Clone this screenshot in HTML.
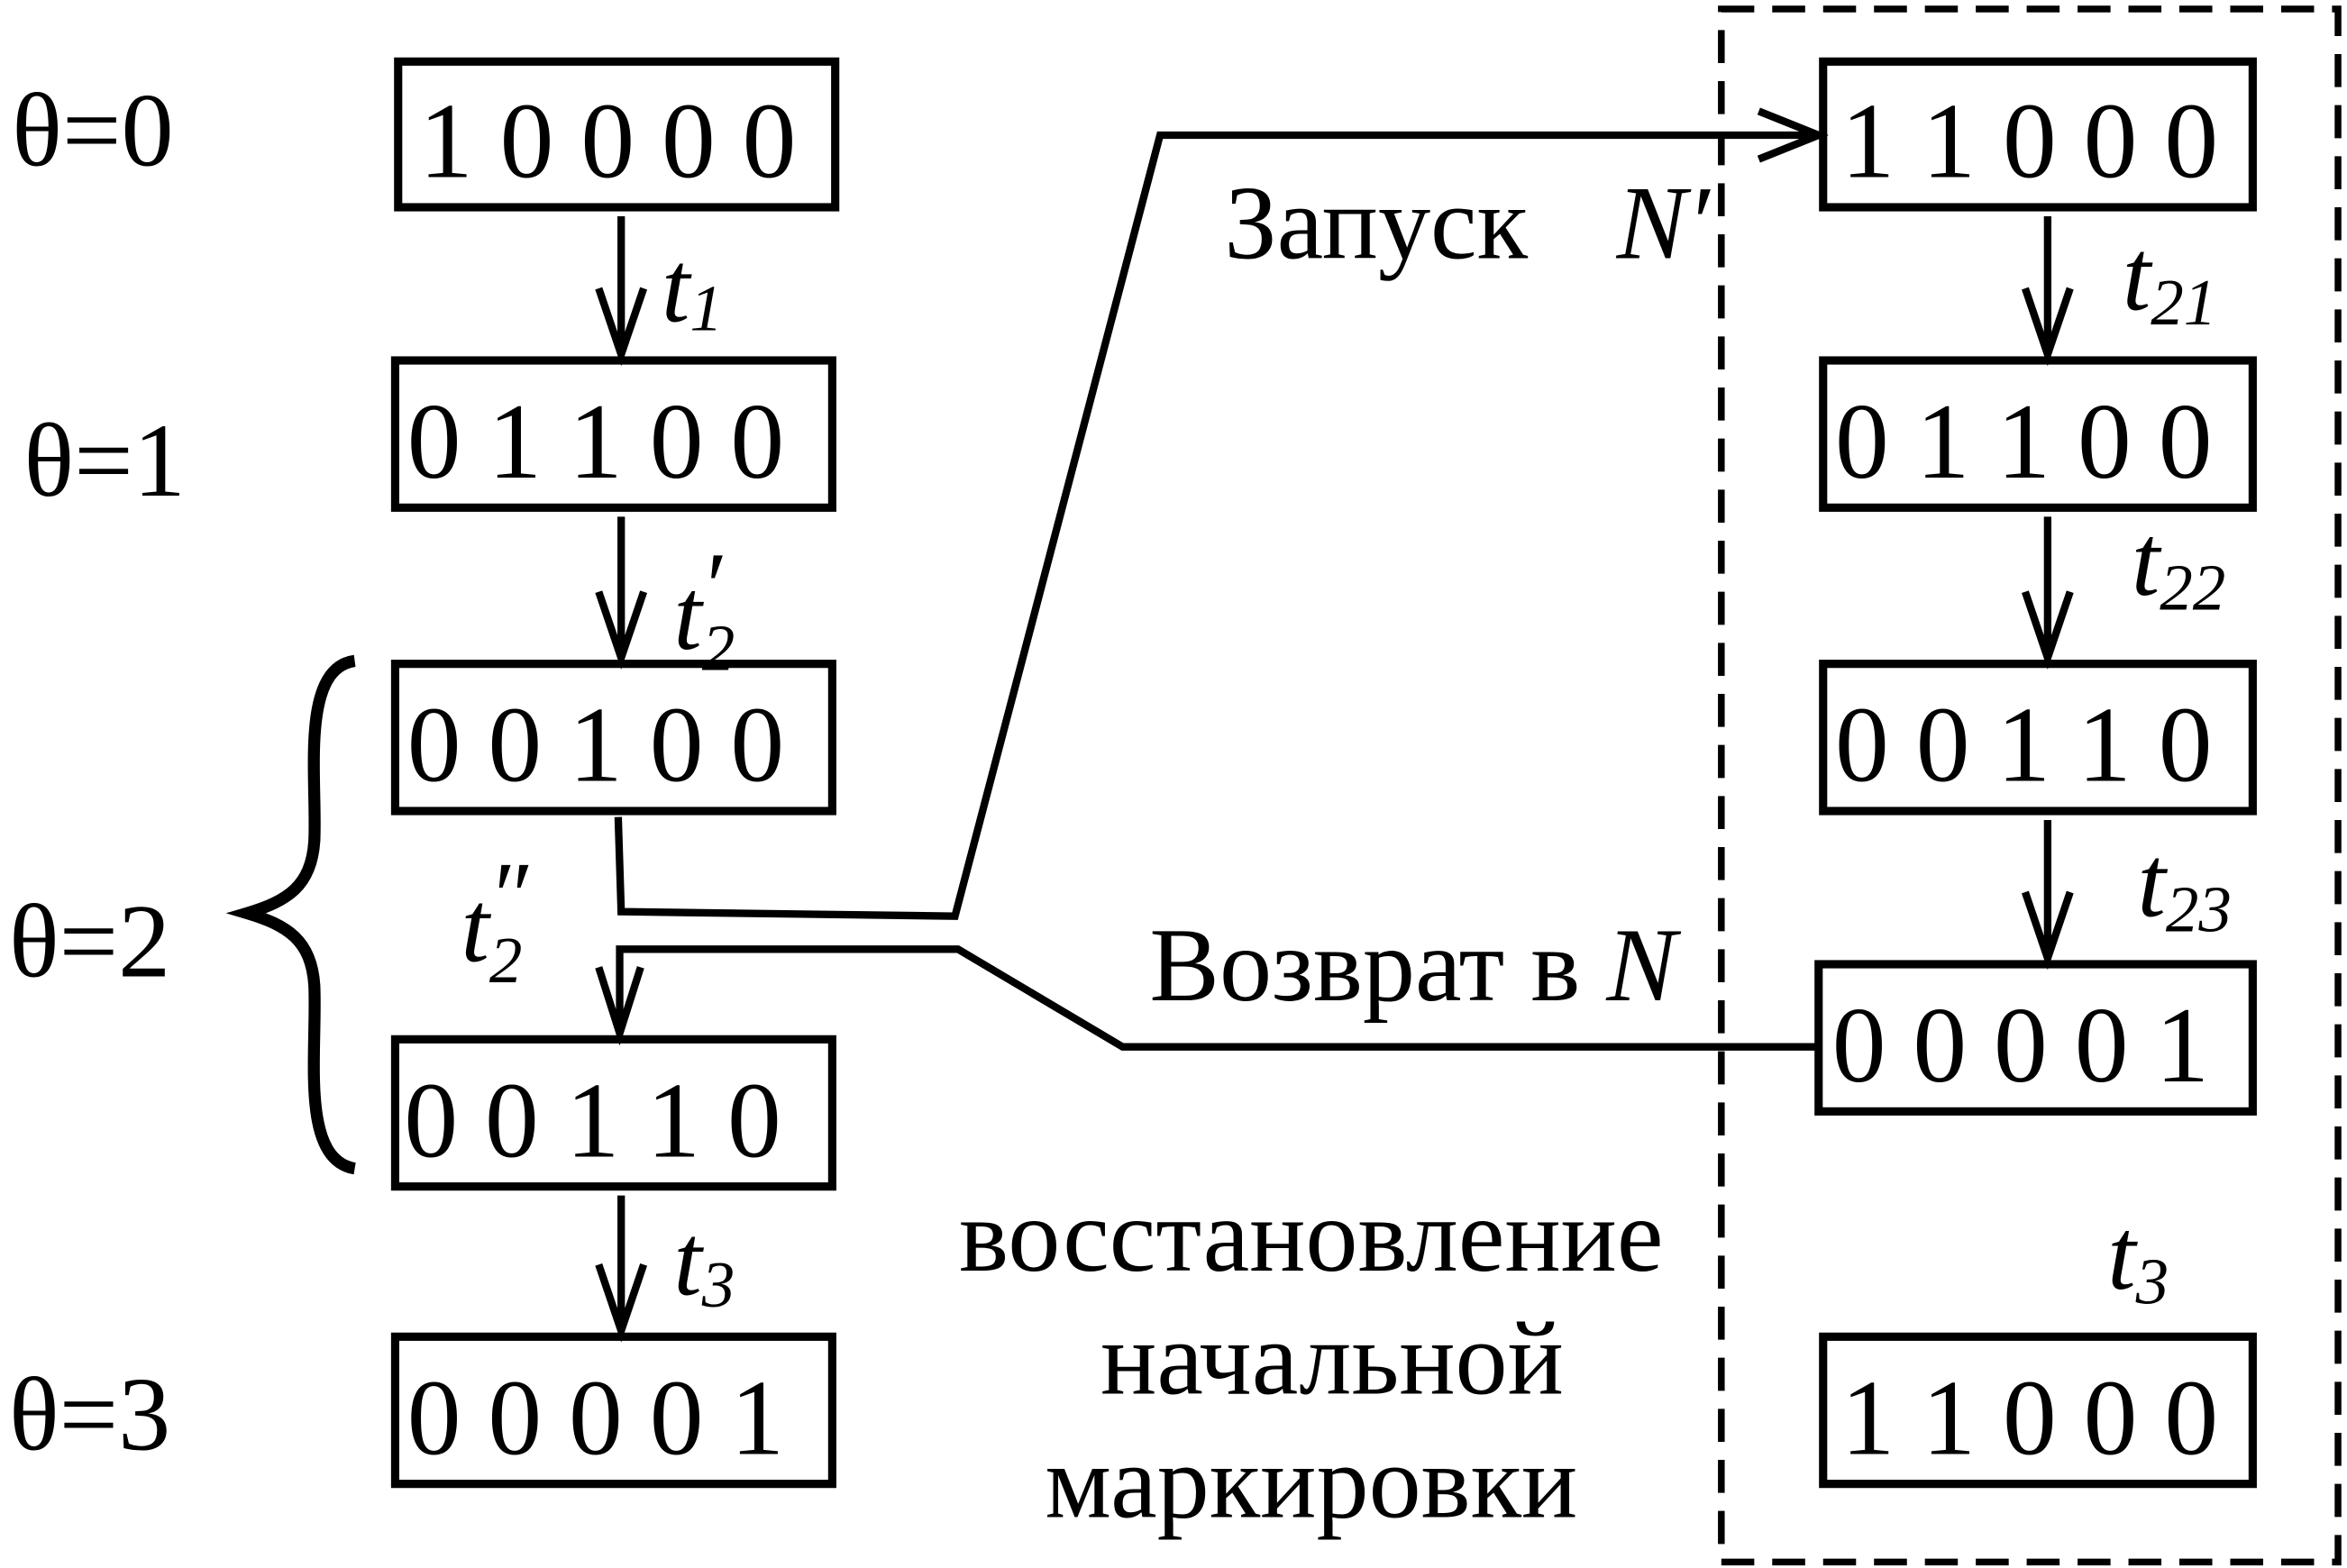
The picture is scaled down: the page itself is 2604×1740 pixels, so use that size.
<!DOCTYPE html>
<html><head><meta charset="utf-8"><style>html,body{margin:0;padding:0;background:#fff}svg{display:block}</style></head>
<body>
<svg width="2604" height="1740" viewBox="0 0 1568 1044" preserveAspectRatio="none" font-family="'Liberation Serif', serif" fill="#000">
<g font-size="70">
<text x="8" y="110">θ=0</text>
<text x="16" y="330">θ=1</text>
<text x="6" y="650">θ=2</text>
<text x="6" y="965">θ=3</text>
</g>
<path d="M237,440 C200,445 212,520 210,560 C208,590 192,600 165,608 C192,616 208,626 210,656 C212,700 200,772 237,778" fill="none" stroke="#000" stroke-width="8"/>
<g fill="none" stroke="#000" stroke-width="5.5">
<rect x="266" y="41" width="292" height="97"/>
<rect x="264" y="240" width="292" height="98"/>
<rect x="264" y="442" width="292" height="98"/>
<rect x="264" y="692" width="292" height="98"/>
<rect x="264" y="890" width="292" height="98"/>
</g>
<g fill="none" stroke="#000" stroke-width="5.5">
<rect x="1218" y="41" width="287" height="97"/>
<rect x="1218" y="240" width="287" height="98"/>
<rect x="1218" y="442" width="287" height="98"/>
<rect x="1215" y="642" width="290" height="98"/>
<rect x="1218" y="890" width="287" height="98"/>
</g>
<g font-size="72">
<text x="280" y="118">1 0 0 0 0</text>
<text x="272" y="318">0 1 1 0 0</text>
<text x="272" y="520">0 0 1 0 0</text>
<text x="270" y="770">0 0 1 1 0</text>
<text x="272" y="968">0 0 0 0 1</text>
<text x="1230" y="118">1 1 0 0 0</text>
<text x="1226" y="318">0 1 1 0 0</text>
<text x="1226" y="520">0 0 1 1 0</text>
<text x="1224" y="720">0 0 0 0 1</text>
<text x="1230" y="968">1 1 0 0 0</text>
</g>
<rect x="1150" y="6" width="412" height="1034" fill="none" stroke="#000" stroke-width="4.5" stroke-dasharray="22,12"/>
<g fill="none" stroke="#000" stroke-width="5">
<path d="M415,144 V236 M400,192 L415,236 L430,192"/>
<path d="M415,344 V438 M400,394 L415,438 L430,394"/>
<path d="M415,796 V886 M400,842 L415,886 L430,842"/>
<path d="M1368,144 V236 M1353,192 L1368,236 L1383,192"/>
<path d="M1368,344 V438 M1353,394 L1368,438 L1383,394"/>
<path d="M1368,546 V638 M1353,594 L1368,638 L1383,594"/>
<path d="M413,544 L415,607 L638,610 L775,90 L1215,90 M1175,74 L1215,90 L1175,106"/>
<path d="M1213,697 L750,697 L640,632 L414,632 L414,688 M400,644 L414,688 L428,644"/>
</g>
<g font-style="italic" font-size="68">
<text x="442" y="214">t<tspan font-size="44" dy="6">1</tspan></text>
<text x="450" y="432">t<tspan font-size="44" dy="14">2</tspan></text>
<text x="472" y="412" font-style="normal" font-size="64">′</text>
<text x="308" y="640">t<tspan font-size="44" dy="14">2</tspan></text>
<text x="330" y="618" font-style="normal" font-size="64">″</text>
<text x="450" y="862">t<tspan font-size="44" dy="8">3</tspan></text>
<text x="1418" y="206">t<tspan font-size="44" dy="10">21</tspan></text>
<text x="1424" y="396">t<tspan font-size="44" dy="10">22</tspan></text>
<text x="1428" y="610">t<tspan font-size="44" dy="10">23</tspan></text>
<text x="1408" y="858">t<tspan font-size="44" dy="10">3</tspan></text>
</g>
<g font-size="70">
<text x="818" y="172">Запуск</text>
<text x="1080" y="172" font-style="italic">N′</text>
<text x="768" y="666">Возврат в <tspan font-style="italic">N</tspan></text>
<text x="876" y="846" text-anchor="middle">восстановление</text>
<text x="890" y="928" text-anchor="middle">начальной</text>
<text x="876" y="1010" text-anchor="middle">маркировки</text>
</g>
</svg>
</body></html>
